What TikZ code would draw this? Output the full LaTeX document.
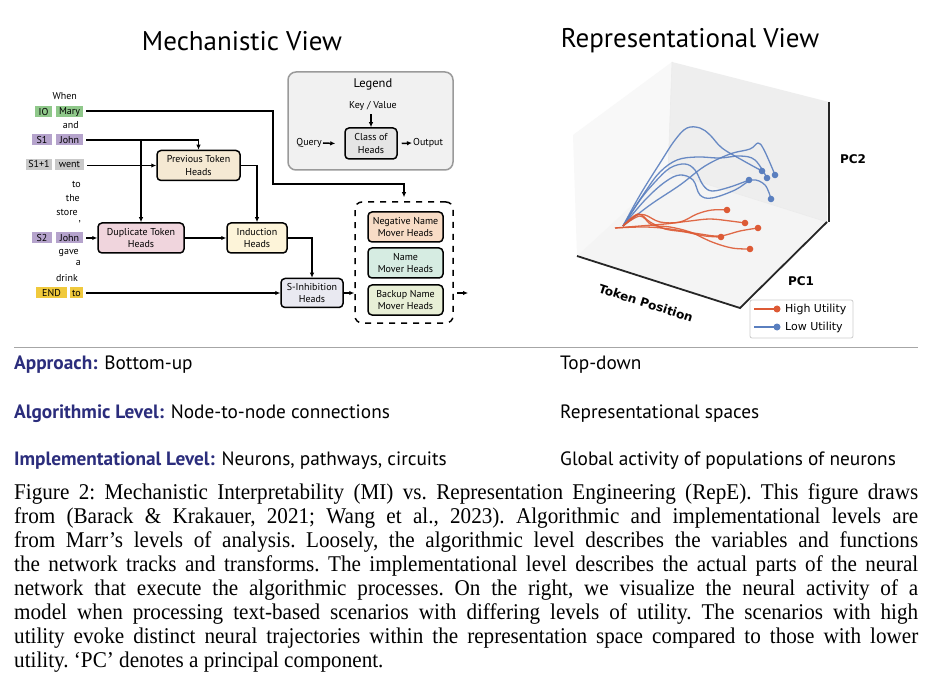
\documentclass[tikz,border=0pt]{standalone}
\usepackage{fontspec}
\setmainfont{PT Sans}
\newfontfamily\capfont[FakeStretch=0.94]{Liberation Serif}
\newfontfamily\plotfont{DejaVu Sans}
\usetikzlibrary{arrows.meta}
\definecolor{iogreen}{HTML}{8FC88A}
\definecolor{spurple}{HTML}{B5A3CC}
\definecolor{tgray}{HTML}{C9C9C9}
\definecolor{endyellow}{HTML}{F0C93C}
\definecolor{prevfill}{HTML}{F5E9D3}
\definecolor{dupfill}{HTML}{F0D5DD}
\definecolor{indfill}{HTML}{FDF4D9}
\definecolor{sinhfill}{HTML}{E9E9F1}
\definecolor{negfill}{HTML}{F8DCC6}
\definecolor{namefill}{HTML}{D6ECE2}
\definecolor{backfill}{HTML}{E8EFD6}
\definecolor{classfill}{HTML}{E5E5E5}
\definecolor{legfill}{HTML}{F1F1F1}
\definecolor{legdraw}{HTML}{9A9A9A}
\definecolor{navy}{HTML}{2B2D7C}
\definecolor{trred}{HTML}{DD5A35}
\definecolor{trblue}{HTML}{5A7FBF}
\definecolor{leftwall}{HTML}{F8F8F8}
\definecolor{backwall}{HTML}{EEEEEE}
\definecolor{floorc}{HTML}{F4F4F4}
\tikzset{
  head/.style={draw, line width=1.5pt, rounded corners=4pt, align=center,
    font=\fontsize{10}{12.5}\selectfont, inner sep=0pt, minimum height=30pt},
  tok/.style={inner sep=0pt, minimum height=11pt, font=\fontsize{10}{11}\selectfont},
  word/.style={inner sep=0pt, anchor=east, font=\fontsize{10}{11}\selectfont},
  wire/.style={line width=1.4pt},
  conn/.style={line width=1.5pt, -{Latex[length=5pt,width=4.5pt]}},
  traj/.style={line width=1.3pt, line join=round, opacity=0.9},
  plotlbl/.style={font=\plotfont\bfseries\fontsize{12}{14}\selectfont},
  rowtext/.style={anchor=west, inner sep=0pt, font=\fontsize{19.3}{22}\selectfont},
  rowhead/.style={font=\bfseries, text=navy}
}
\begin{document}
\begin{tikzpicture}[x=1pt,y=-1pt]
\useasboundingbox (0,0) rectangle (936,692);
\fill[white] (0,0) rectangle (936,692);

% titles
\node[font=\fontsize{27}{30}\selectfont] (t1) at (242,41) {Mechanistic View};
\node[font=\fontsize{27}{30}\selectfont] (t2) at (690,41) {Representational View};

% tokens
\node[word] (w1) at (77,96) {When};
\node[tok, fill=iogreen, minimum width=17pt] (io) at (43.5,112) {IO};
\node[tok, fill=iogreen, minimum width=27pt] (mary) at (69.5,112) {Mary};
\node[word] (w2) at (79,125) {and};
\node[tok, fill=spurple, minimum width=20pt] (s1) at (42,140) {S1};
\node[tok, fill=spurple, minimum width=27pt] (john1) at (69.5,140) {John};
\node[tok, fill=tgray, minimum width=26pt] (s11) at (39,164.5) {S1+1};
\node[tok, fill=tgray, minimum width=29pt] (went) at (69.5,164.5) {went};
\node[word] (w3) at (81,184) {to};
\node[word] (w4) at (80,198) {the};
\node[word] (w5) at (78,212) {store};
\node[word] (w6) at (81,222) {,};
\node[tok, fill=spurple, minimum width=20pt] (s2) at (42,238) {S2};
\node[tok, fill=spurple, minimum width=27pt] (john2) at (69.5,238) {John};
\node[word] (w7) at (79,253) {gave};
\node[word] (w8) at (81,263) {a};
\node[word] (w9) at (78,278) {drink};
\node[tok, fill=endyellow, minimum width=31pt] (endt) at (51.5,293) {END};
\node[tok, fill=endyellow, minimum width=13pt] (to2) at (76.5,293) {to};

% heads
\node[head, fill=prevfill, minimum width=83pt] (prev) at (198.5,165.5) {Previous Token\\Heads};
\node[head, fill=dupfill, minimum width=86pt] (dup) at (141,238) {Duplicate Token\\Heads};
\node[head, fill=indfill, minimum width=60pt] (ind) at (257,238) {Induction\\Heads};
\node[head, fill=sinhfill, minimum width=62pt, minimum height=29pt] (sinh) at (312,293) {S-Inhibition\\Heads};
\node[draw, line width=1.5pt, dash pattern=on 6pt off 6pt, rounded corners=7pt,
      minimum width=98pt, minimum height=121pt, inner sep=0pt] (dash) at (404,262.5) {};
\node[head, fill=negfill, minimum width=75pt] (neg) at (405.5,227) {Negative Name\\Mover Heads};
\node[head, fill=namefill, minimum width=75pt] (name) at (405.5,263) {Name\\Mover Heads};
\node[head, fill=backfill, minimum width=75pt] (backup) at (405.5,300) {Backup Name\\Mover Heads};

% legend
\node[draw=legdraw, fill=legfill, line width=1.5pt, rounded corners=8pt,
      minimum width=165pt, minimum height=98pt, inner sep=0pt] (leg) at (370.5,121) {};
\node[font=\fontsize{12.5}{14}\selectfont] (legt) at (373,84) {Legend};
\node[font=\fontsize{10}{11}\selectfont] (kv) at (373,106) {Key / Value};
\node[head, fill=classfill, minimum width=52pt, minimum height=31pt] (cls) at (371,143.5) {Class of\\Heads};
\node[anchor=east, inner sep=0pt, font=\fontsize{10}{11}\selectfont] (qry) at (322,143) {Query};
\node[anchor=west, inner sep=0pt, font=\fontsize{10}{11}\selectfont] (outp) at (413,143) {Output};
\draw[conn] (kv.south -| cls.north) -- (cls.north);
\draw[conn] ([xshift=1pt]qry.east) -- ([xshift=-9pt]cls.west);
\draw[conn] ([xshift=4pt]cls.east) -- ([xshift=-1pt]outp.west);

% connectors
\coordinate (mv1) at (273,111);
\coordinate (mv2) at (273,184);
\draw[conn] ([xshift=3pt]mary.east |- mv1) -- (mv1) -- (mv2) -- (mv2 -| dash.north) -- ([yshift=4pt]dash.north);
\draw[conn] ([xshift=3pt]john1.east) -| (prev.north);
\coordinate (b1) at (142,140);
\draw[conn] (dup.north |- b1) -- (dup.north);
\draw[conn] ([xshift=3pt]went.east |- prev.west) -- (prev.west);
\draw[conn] (prev.east) -| (ind.north);
\draw[conn] ([xshift=3pt]john2.east) -- (dup.west);
\draw[conn] (dup.east) -- (ind.west);
\draw[conn] (ind.east) -| (sinh.north);
\draw[conn] ([xshift=3pt]to2.east) -- (sinh.west);
\draw[conn] (sinh.east) -- (sinh.east -| dash.west);
\coordinate (o1) at (457,293);
\coordinate (o2) at (468,293);
\draw[conn] (o1) -- (o2);

% 3D plot panes
\fill[leftwall] (577,256) -- (573,135) -- (672,62) -- (668,172) -- cycle;
\fill[backwall] (668,172) -- (672,62) -- (829,102) -- (827,222) -- cycle;
\fill[floorc] (577,256) -- (740,308) -- (827,222) -- (668,172) -- cycle;
\draw[black!8, line width=0.6pt] (668,172) -- (672,62);
\draw[black!8, line width=0.6pt] (668,172) -- (827,222);
\draw[black!85, line width=1.8pt] (577,256) -- (740,308) -- (827,222);
\draw[black!85, line width=1.8pt] (829,102) -- (829,222);

% blue trajectories
\begin{scope}[trblue]
\draw[traj] plot[smooth, tension=0.6] coordinates {(623,226) (640,195) (660,163) (675,140) (687,128) (700,128) (710,135) (722,148) (742,160) (762,171)};
\draw[traj] plot[smooth, tension=0.6] coordinates {(623,226) (645,192) (660,172) (677,160) (697,157) (720,158) (740,156) (755,160) (767,178)};
\draw[traj] plot[smooth, tension=0.6] coordinates {(623,226) (640,200) (655,182) (670,168) (685,164) (695,170) (703,185) (712,191) (730,187) (749,180)};
\draw[traj] plot[smooth, tension=0.6] coordinates {(623,226) (645,200) (665,182) (680,175) (693,180) (700,195) (712,198) (735,190) (752,180) (765,185) (771,199)};
\draw[traj] plot[smooth, tension=0.6] coordinates {(623,226) (650,205) (680,185) (705,166) (730,154) (750,149) (758,143) (763,148) (770,163) (775,175)};
\foreach \p in {(762,171),(767,178),(749,180),(771,199),(775,175)} \fill \p circle (3.3pt);
\end{scope}
% red trajectories
\begin{scope}[trred]
\draw[traj] plot[smooth, tension=0.6] coordinates {(623,226) (635,216) (645,215) (660,222) (680,222) (697,214) (712,210) (727,210)};
\draw[traj] plot[smooth, tension=0.6] coordinates {(615,228) (640,226) (665,224) (690,221) (710,219) (730,221) (745,223)};
\draw[traj] plot[smooth, tension=0.6] coordinates {(615,228) (645,227) (670,229) (700,234) (720,236) (740,231) (758,228)};
\draw[traj] plot[smooth, tension=0.6] coordinates {(623,226) (638,214) (650,222) (665,229) (685,232) (705,236) (721,237)};
\draw[traj] plot[smooth, tension=0.6] coordinates {(623,226) (640,216) (652,225) (670,227) (690,232) (712,242) (732,248) (750,249)};
\foreach \p in {(727,210),(745,223),(758,228),(721,237),(750,249)} \fill \p circle (3.3pt);
\end{scope}

% plot labels
\node[plotlbl] (pc2) at (853,159) {PC2};
\node[plotlbl] (pc1) at (801,281) {PC1};
\node[plotlbl, rotate=-18] (tokpos) at (646,303) {Token Position};

% plot legend
\node[draw=black!20, fill=white, rounded corners=2pt, line width=0.8pt,
      minimum width=103pt, minimum height=38pt, inner sep=0pt] (pleg) at (801.5,319) {};
\coordinate (lh1) at (754,309); \coordinate (lh2) at (777,309);
\coordinate (ll1) at (754,327); \coordinate (ll2) at (777,327);
\draw[trred, line width=1.3pt] (lh1) -- (lh2);
\fill[trred] (lh2) circle (3.5pt);
\draw[trblue, line width=1.3pt] (ll1) -- (ll2);
\fill[trblue] (ll2) circle (3.5pt);
\node[anchor=west, inner sep=0pt, font=\plotfont\fontsize{11}{13}\selectfont] (hu) at (785,309) {High Utility};
\node[anchor=west, inner sep=0pt, font=\plotfont\fontsize{11}{13}\selectfont] (lu) at (785,327) {Low Utility};

% separator and rows
\draw[black!35, line width=0.8pt] (14,347) -- (918,347);
\node[rowtext] (r1) at (14,365) {{\bfseries\color{navy}Approach:} Bottom-up};
\node[rowtext] (r2) at (14,414) {{\bfseries\color{navy}Algorithmic Level:} Node-to-node connections};
\node[rowtext] (r3) at (14,461) {{\bfseries\color{navy}Implementational Level:} Neurons, pathways, circuits};
\node[rowtext] (r1b) at (560,365) {Top-down};
\node[rowtext] (r2b) at (560,414) {Representational spaces};
\node[rowtext] (r3b) at (560,461) {Global activity of populations of neurons};

% caption
\node[anchor=north west, inner sep=0pt, text width=904pt, align=justify,
      font=\capfont\fontsize{22.5}{24.1}\selectfont\frenchspacing] (cap) at (14,483)
{Figure 2: Mechanistic Interpretability (MI) vs. Representation Engineering (RepE). This figure draws\linebreak
from (Barack \& Krakauer, 2021; Wang et al., 2023). Algorithmic and implementational levels are\linebreak
from Marr’s levels of analysis. Loosely, the algorithmic level describes the variables and functions\linebreak
the network tracks and transforms. The implementational level describes the actual parts of the neural\linebreak
network that execute the algorithmic processes. On the right, we visualize the neural activity of a\linebreak
model when processing text-based scenarios with differing levels of utility. The scenarios with high\linebreak
utility evoke distinct neural trajectories within the representation space compared to those with lower\linebreak
utility. ‘PC’ denotes a principal component.};
\end{tikzpicture}
\end{document}
